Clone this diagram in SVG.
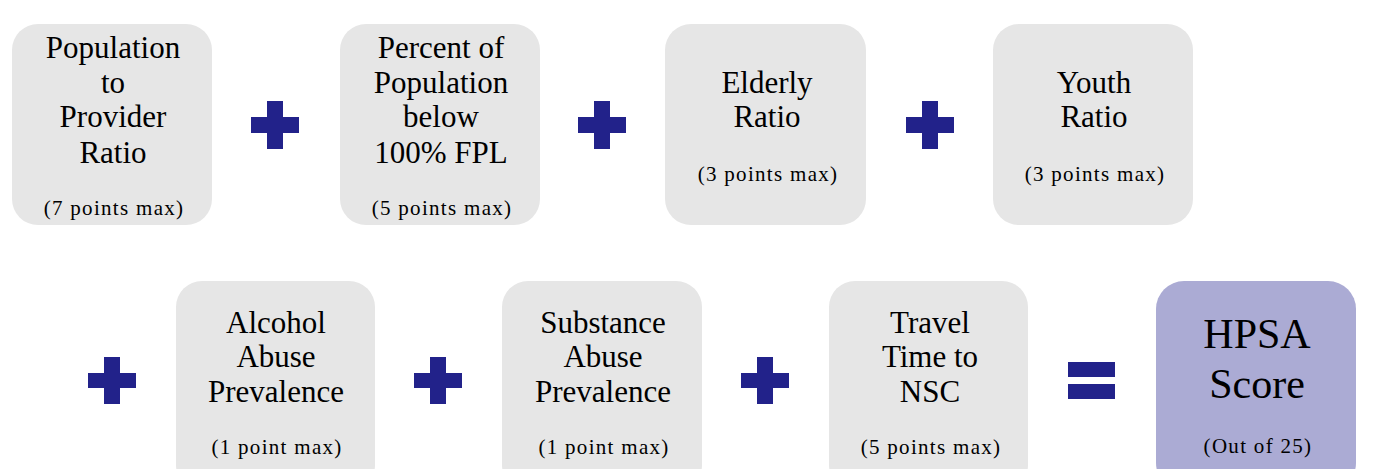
<svg xmlns="http://www.w3.org/2000/svg" width="1380" height="469" viewBox="0 0 1380 469">
<style>
.box{fill:#E6E6E6}
.score{fill:#ABABD4}
.op{fill:#22228A}
text{font-family:"Liberation Serif","DejaVu Serif",serif;fill:#000;text-anchor:middle}
.t{font-size:31px}
.s{font-size:21px;letter-spacing:1.3px}
.big{font-size:42px}
</style>
<rect width="1380" height="469" fill="#fff"/>
<g id="n1"><rect class="box" x="12" y="24" width="200" height="201" rx="26"/>
<text class="t" x="113" y="58">Population</text><text class="t" x="113" y="93">to</text><text class="t" x="113" y="127">Provider</text><text class="t" x="113" y="163">Ratio</text>
<text class="s" x="114" y="215">(7 points max)</text></g>
<g id="n2"><rect class="box" x="340" y="24" width="200" height="201" rx="26"/>
<text class="t" x="441" y="58">Percent of</text><text class="t" x="441" y="93">Population</text><text class="t" x="441" y="127">below</text><text class="t" x="441" y="163">100% FPL</text>
<text class="s" x="442" y="215">(5 points max)</text></g>
<g id="n3"><rect class="box" x="665" y="24" width="201" height="201" rx="26"/>
<text class="t" x="767" y="93">Elderly</text><text class="t" x="767" y="127">Ratio</text>
<text class="s" x="768" y="181">(3 points max)</text></g>
<g id="n4"><rect class="box" x="993" y="24" width="200" height="201" rx="26"/>
<text class="t" x="1094" y="93">Youth</text><text class="t" x="1094" y="127">Ratio</text>
<text class="s" x="1095" y="181">(3 points max)</text></g>
<g id="n5"><rect class="box" x="176" y="281" width="199" height="210" rx="26"/>
<text class="t" x="276" y="333">Alcohol</text><text class="t" x="276" y="367">Abuse</text><text class="t" x="276" y="402">Prevalence</text>
<text class="s" x="277" y="454">(1 point max)</text></g>
<g id="n6"><rect class="box" x="502" y="281" width="200" height="210" rx="26"/>
<text class="t" x="603" y="333">Substance</text><text class="t" x="603" y="367">Abuse</text><text class="t" x="603" y="402">Prevalence</text>
<text class="s" x="604" y="454">(1 point max)</text></g>
<g id="n7"><rect class="box" x="829" y="281" width="199" height="210" rx="26"/>
<text class="t" x="930" y="333">Travel</text><text class="t" x="930" y="367">Time to</text><text class="t" x="930" y="402">NSC</text>
<text class="s" x="931" y="454">(5 points max)</text></g>
<g id="n8"><rect class="score" x="1156" y="281" width="200" height="210" rx="28"/>
<text class="big" x="1257" y="348">HPSA</text><text class="big" x="1257" y="398">Score</text>
<text class="s" x="1258" y="453">(Out of 25)</text></g>
<g id="connectors">
<path id="p1" class="op" d="M267 101h16v16h16v16h-16v16h-16v-16h-16v-16h16z"/>
<path id="p2" class="op" d="M594 101h16v16h16v16h-16v16h-16v-16h-16v-16h16z"/>
<path id="p3" class="op" d="M922 101h16v16h16v16h-16v16h-16v-16h-16v-16h16z"/>
<path id="p4" class="op" d="M104 357h16v16h16v15h-16v16h-16v-16h-16v-15h16z"/>
<path id="p5" class="op" d="M430 357h16v16h16v15h-16v16h-16v-16h-16v-15h16z"/>
<path id="p6" class="op" d="M757 357h16v16h16v15h-16v16h-16v-16h-16v-15h16z"/>
<g id="eq" class="op"><rect x="1068" y="362" width="47" height="15"/><rect x="1068" y="384" width="47" height="15"/></g>
</g>
</svg>
